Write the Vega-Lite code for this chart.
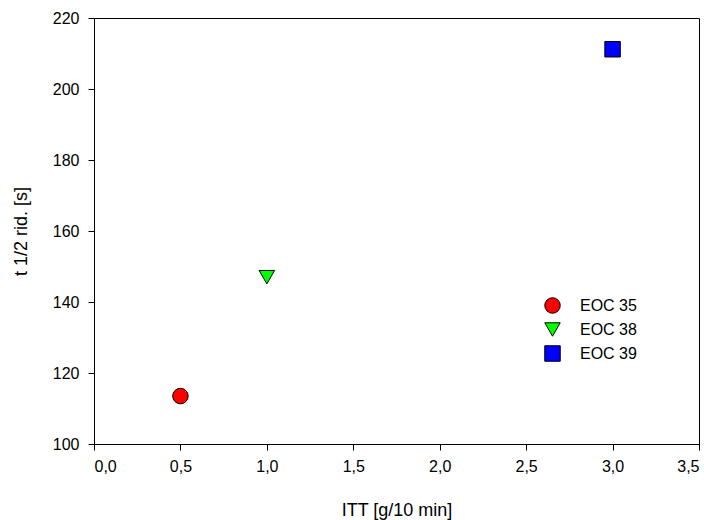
{
  "$schema": "https://vega.github.io/schema/vega-lite/v6.json",
  "autosize": {"type": "none"},
  "width": 605,
  "height": 426,
  "padding": {"left": 94, "top": 18, "right": 5, "bottom": 76},
  "background": "white",
  "config": {
    "font": "Liberation Sans",
    "view": {"stroke": "black", "strokeWidth": 1},
    "axis": {"grid": false, "domainColor": "black", "tickColor": "black", "tickSize": 6, "labelColor": "black", "titleColor": "black", "labelFontSize": 16, "titleFontSize": 18, "titleFontWeight": "normal", "labelFont": "Liberation Sans", "titleFont": "Liberation Sans"}
  },
  "data": {
    "values": [
      {"series": "EOC 35", "itt": 0.5, "t": 113.5},
      {"series": "EOC 38", "itt": 1.0, "t": 147},
      {"series": "EOC 39", "itt": 3.0, "t": 211.2}
    ]
  },
  "mark": {"type": "point", "filled": true, "stroke": "black", "strokeWidth": 1, "opacity": 1, "size": 240},
  "encoding": {
    "x": {"field": "itt", "type": "quantitative", "scale": {"domain": [0, 3.5], "nice": false, "zero": false},
      "axis": {"values": [0, 0.5, 1, 1.5, 2, 2.5, 3, 3.5], "labelExpr": "replace(format(datum.value, '.1f'), '.', ',')", "labelPadding": 8, "title": "ITT [g/10 min]", "titlePadding": 27}},
    "y": {"field": "t", "type": "quantitative", "scale": {"domain": [100, 220], "nice": false, "zero": false},
      "axis": {"values": [100, 120, 140, 160, 180, 200, 220], "labelPadding": 9, "title": "t 1/2 rid. [s]", "titlePadding": 22}},
    "color": {"field": "series", "type": "nominal", "scale": {"domain": ["EOC 35", "EOC 38", "EOC 39"], "range": ["#ff0000", "#00ff00", "#0000ff"]},
      "legend": {"title": null, "orient": "none", "legendX": 450, "legendY": 279, "labelFontSize": 16, "labelColor": "black", "labelFont": "Liberation Sans", "symbolSize": 240, "symbolStrokeColor": "black", "symbolStrokeWidth": 1, "rowPadding": 4, "labelOffset": 19}},
    "shape": {"field": "series", "type": "nominal", "scale": {"domain": ["EOC 35", "EOC 38", "EOC 39"], "range": ["circle", "triangle-down", "square"]}, "legend": null}
  }
}
